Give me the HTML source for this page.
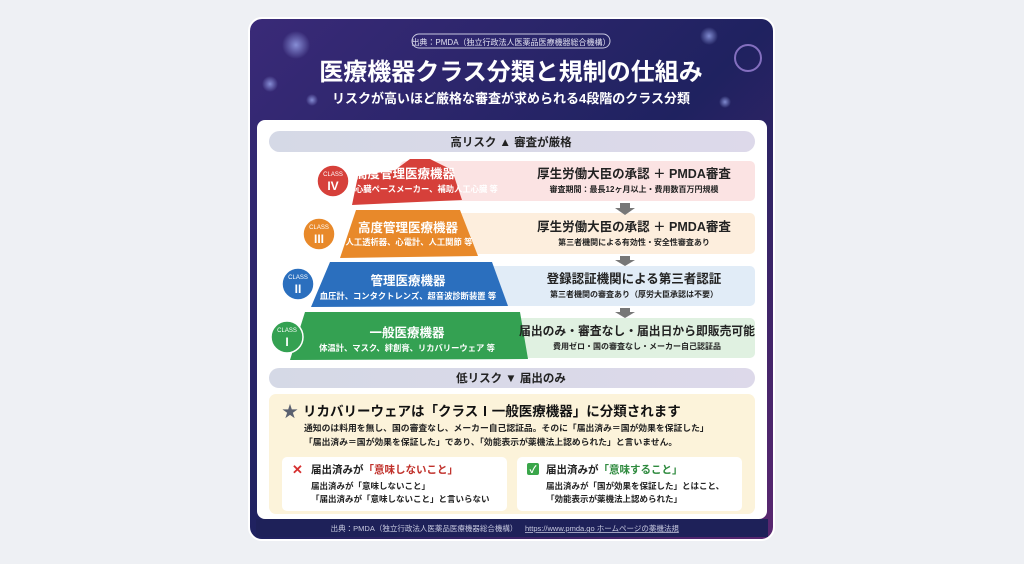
<!DOCTYPE html>
<html><head><meta charset="utf-8"><style>
html,body{margin:0;padding:0;background:#eef0f4;}
body{width:1024px;height:559px;overflow:hidden;font-family:"Liberation Sans","Noto Sans CJK JP",sans-serif;}
text{font-family:"Liberation Sans","Noto Sans CJK JP",sans-serif;}
</style></head><body>
<svg width="1024" height="559" viewBox="0 0 1024 559" xmlns="http://www.w3.org/2000/svg">
<defs>
<linearGradient id="hd" x1="0" y1="0" x2="1" y2="1">
<stop offset="0" stop-color="#3a2a78"/><stop offset="0.5" stop-color="#1f2260"/><stop offset="1" stop-color="#5a2770"/>
</linearGradient>
<linearGradient id="band" x1="0" x2="1"><stop offset="0" stop-color="#d5d9e6"/><stop offset="1" stop-color="#ddd9ea"/></linearGradient>
<radialGradient id="orb"><stop offset="0" stop-color="#a9b8ff" stop-opacity="0.7"/><stop offset="1" stop-color="#a9b8ff" stop-opacity="0"/></radialGradient>
</defs>
<rect x="249" y="18" width="525" height="522" rx="13" fill="url(#hd)" stroke="#fff" stroke-width="2"/>
<circle cx="296" cy="45" r="14" fill="url(#orb)"/>
<circle cx="270" cy="84" r="8" fill="url(#orb)"/>
<circle cx="312" cy="100" r="6" fill="url(#orb)"/>
<circle cx="709" cy="36" r="9" fill="url(#orb)"/>
<circle cx="748" cy="58" r="13" fill="none" stroke="#c7a3ff" stroke-opacity="0.6" stroke-width="2"/>
<circle cx="725" cy="102" r="6" fill="url(#orb)"/>
<rect x="412" y="34" width="198" height="14" rx="7" fill="none" stroke="#c8c8e0" stroke-width="1"/>
<text x="511" y="45" font-size="8" fill="#e0e0f0" text-anchor="middle">出典：PMDA（独立行政法人医薬品医療機器総合機構）</text>
<text x="511" y="80" font-size="24" font-weight="bold" fill="#fff" text-anchor="middle">医療機器クラス分類と規制の仕組み</text>
<text x="511" y="103" font-size="13" font-weight="bold" fill="#fff" text-anchor="middle">リスクが高いほど厳格な審査が求められる4段階のクラス分類</text>
<rect x="257" y="120" width="510" height="399" rx="8" fill="#fff"/>
<rect x="256" y="519" width="512" height="18" fill="#1e2159"/>
<text x="424" y="531" font-size="7.5" fill="#c8cae0" text-anchor="middle">出典：PMDA（独立行政法人医薬品医療機器総合機構）</text>
<text x="525" y="531" font-size="7.5" fill="#c8cae0" text-decoration="underline">https://www.pmda.go ホームページの薬機法規</text>
<rect x="269" y="131" width="486" height="21" rx="10.5" fill="url(#band)"/>
<text x="511" y="146" font-size="11.5" font-weight="bold" fill="#222" text-anchor="middle">高リスク ▲ 審査が厳格</text>
<rect x="400" y="161" width="355" height="40" rx="5" fill="#fbe3e3"/>
<rect x="400" y="213" width="355" height="41" rx="5" fill="#fdeedd"/>
<rect x="400" y="266" width="355" height="40" rx="5" fill="#e1ecf7"/>
<rect x="400" y="318" width="355" height="40" rx="5" fill="#e0f1e1"/>
<g fill="#777">
<path d="M620 203h10v5h5l-10 7-10-7h5z"/>
<path d="M620 256h10v4h5l-10 6-10-6h5z"/>
<path d="M620 308h10v4h5l-10 6-10-6h5z"/>
</g>
<path d="M395 170 L410 159 L430 159 L452 170 L462 200 L352 205 L358 176 Z" fill="#d6403a"/>
<path d="M356 210 L460 210 L478 256 L340 258 Z" fill="#e8892a"/>
<path d="M330 262 L492 262 L508 306 L311 307 Z" fill="#2b6fbe"/>
<path d="M305 312 L520 312 L528 359 L290 360 Z" fill="#34a152"/>
<circle cx="333" cy="181" r="16" fill="#d6403a" stroke="#fff" stroke-width="1.5"/>
<text x="333" y="176" font-size="6" fill="#fff" text-anchor="middle">CLASS</text>
<text x="333" y="190" font-size="12" font-weight="bold" fill="#fff" text-anchor="middle">IV</text>
<circle cx="319" cy="234" r="16" fill="#e8892a" stroke="#fff" stroke-width="1.5"/>
<text x="319" y="229" font-size="6" fill="#fff" text-anchor="middle">CLASS</text>
<text x="319" y="243" font-size="12" font-weight="bold" fill="#fff" text-anchor="middle">III</text>
<circle cx="298" cy="284" r="16" fill="#2b6fbe" stroke="#fff" stroke-width="1.5"/>
<text x="298" y="279" font-size="6" fill="#fff" text-anchor="middle">CLASS</text>
<text x="298" y="293" font-size="12" font-weight="bold" fill="#fff" text-anchor="middle">II</text>
<circle cx="287" cy="337" r="16" fill="#34a152" stroke="#fff" stroke-width="1.5"/>
<text x="287" y="332" font-size="6" fill="#fff" text-anchor="middle">CLASS</text>
<text x="287" y="346" font-size="12" font-weight="bold" fill="#fff" text-anchor="middle">I</text>
<g fill="#fff" font-weight="bold">
<text x="355" y="178" font-size="12.5">高度管理医療機器</text>
<text x="355" y="192" font-size="8.3">心臓ペースメーカー、補助人工心臓 等</text>
</g>
<g fill="#fff" text-anchor="middle" font-weight="bold">
<text x="408" y="232" font-size="12.5">高度管理医療機器</text>
<text x="409" y="245" font-size="8.3">人工透析器、心電計、人工関節 等</text>
<text x="408" y="285" font-size="12.5">管理医療機器</text>
<text x="408" y="299" font-size="8.3">血圧計、コンタクトレンズ、超音波診断装置 等</text>
<text x="407" y="337" font-size="12.5">一般医療機器</text>
<text x="407" y="351" font-size="8.3">体温計、マスク、絆創膏、リカバリーウェア 等</text>
</g>
<g fill="#222" text-anchor="middle" font-weight="bold">
<text x="634" y="178" font-size="12.5">厚生労働大臣の承認 ＋ PMDA審査</text>
<text x="634" y="192" font-size="8">審査期間：最長12ヶ月以上・費用数百万円規模</text>
<text x="634" y="231" font-size="12.5">厚生労働大臣の承認 ＋ PMDA審査</text>
<text x="634" y="245" font-size="8">第三者機関による有効性・安全性審査あり</text>
<text x="634" y="283" font-size="12.5">登録認証機関による第三者認証</text>
<text x="634" y="297" font-size="8">第三者機関の審査あり（厚労大臣承認は不要）</text>
<text x="637" y="335" font-size="11.8">届出のみ・審査なし・届出日から即販売可能</text>
<text x="637" y="349" font-size="8">費用ゼロ・国の審査なし・メーカー自己認証品</text>
</g>
<rect x="269" y="368" width="486" height="20" rx="10" fill="url(#band)"/>
<text x="511" y="382" font-size="11.5" font-weight="bold" fill="#222" text-anchor="middle">低リスク ▼ 届出のみ</text>
<rect x="269" y="394" width="486" height="120" rx="7" fill="#fcf3da"/>
<text x="282" y="417" font-size="16" fill="#5a6070">★</text>
<text x="303" y="416" font-size="13.5" font-weight="bold" fill="#111">リカバリーウェアは「クラスⅠ一般医療機器」に分類されます</text>
<text x="304" y="431" font-size="8.8" font-weight="bold" fill="#222">通知のは料用を無し、国の審査なし、メーカー自己認証品。そのに「届出済み＝国が効果を保証した」</text>
<text x="304" y="445" font-size="8.8" font-weight="bold" fill="#222">「届出済み＝国が効果を保証した」であり、「効能表示が薬機法上認められた」と言いません。</text>
<rect x="282" y="457" width="225" height="54" rx="5" fill="#fff"/>
<rect x="517" y="457" width="225" height="54" rx="5" fill="#fff"/>
<text x="292" y="474" font-size="13" font-weight="bold" fill="#d63030">✕</text>
<text x="311" y="473" font-size="10.5" font-weight="bold" fill="#222">届出済みが<tspan fill="#c0302a">「意味しないこと」</tspan></text>
<text x="311" y="489" font-size="8.5" font-weight="bold" fill="#222">届出済みが「意味しないこと」</text>
<text x="311" y="502" font-size="8.5" font-weight="bold" fill="#222">「届出済みが「意味しないこと」と言いらない</text>
<rect x="527" y="463" width="12" height="12" rx="2" fill="#3aa64a"/>
<text x="533" y="473" font-size="10" font-weight="bold" fill="#fff" text-anchor="middle">✓</text>
<text x="546" y="473" font-size="10.5" font-weight="bold" fill="#222">届出済みが<tspan fill="#2e8a3e">「意味すること」</tspan></text>
<text x="546" y="489" font-size="8.5" font-weight="bold" fill="#222">届出済みが「国が効果を保証した」とはこと、</text>
<text x="546" y="502" font-size="8.5" font-weight="bold" fill="#222">「効能表示が薬機法上認められた」</text>
</svg>
</body></html>
